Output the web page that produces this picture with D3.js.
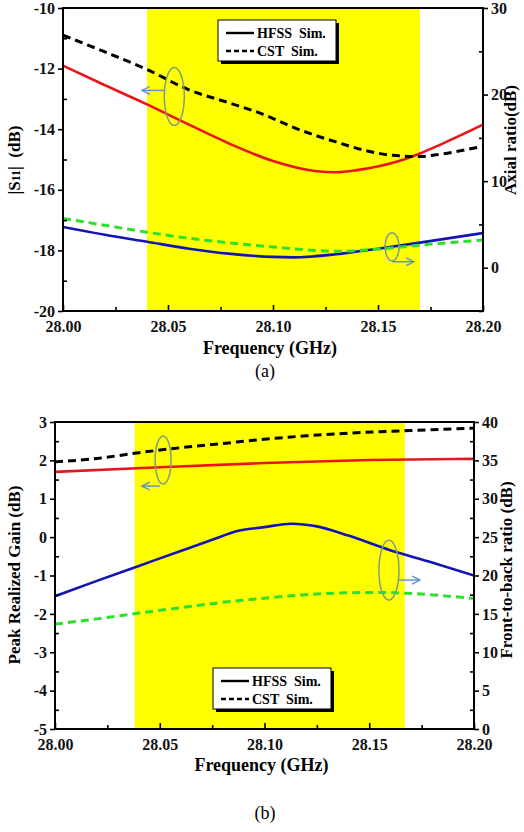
<!DOCTYPE html>
<html>
<head>
<meta charset="utf-8">
<script src="https://cdn.jsdelivr.net/npm/d3@7"></script>
<style>
  body { margin: 0; background: #fff; }
</style>
</head>
<body>
<div id="chart"></div>
<script>
// ---- panel (a) data: |S11| (left axis) and axial ratio (right axis)
const s11HfssFreq = [28.00, 28.02, 28.04, 28.06, 28.08, 28.10, 28.12, 28.13, 28.14, 28.16, 28.17, 28.18, 28.20]
const s11Hfss     = [-11.9, -12.55, -13.18, -13.85, -14.5, -15.05, -15.38, -15.42, -15.35, -15.05, -14.8, -14.5, -13.85]
const s11CstFreq  = [28.00, 28.02, 28.04, 28.06, 28.08, 28.095, 28.11, 28.13, 28.145, 28.16, 28.17, 28.18, 28.20]
const s11Cst      = [-10.9, -11.45, -12.03, -12.7, -13.15, -13.5, -13.95, -14.42, -14.72, -14.88, -14.9, -14.82, -14.56]
const arHfssFreq  = [28.00, 28.02, 28.04, 28.06, 28.08, 28.10, 28.11, 28.13, 28.15, 28.17, 28.20]
const arHfss      = [4.7, 3.8, 3.0, 2.2, 1.6, 1.25, 1.2, 1.55, 2.2, 2.9, 4.0]
const arCstFreq   = [28.00, 28.02, 28.04, 28.06, 28.08, 28.10, 28.12, 28.13, 28.15, 28.17, 28.20]
const arCst       = [5.7, 4.9, 4.1, 3.4, 2.85, 2.4, 2.0, 1.9, 2.15, 2.6, 3.2]
const bandA = [28.04, 28.17]

// ---- panel (b) data: peak realized gain (left) and front-to-back ratio (right)
const gainHfssFreq = [28.00, 28.05, 28.10, 28.15, 28.20]
const gainHfss     = [1.7, 1.82, 1.93, 2.01, 2.04]
const gainCstFreq  = [28.00, 28.02, 28.04, 28.06, 28.08, 28.10, 28.12, 28.14, 28.17, 28.20]
const gainCst      = [1.96, 2.05, 2.2, 2.33, 2.44, 2.55, 2.64, 2.71, 2.78, 2.84]
const fbrHfssFreq  = [28.00, 28.02, 28.04, 28.06, 28.08, 28.085, 28.10, 28.113, 28.125, 28.14, 28.16, 28.18, 28.20]
const fbrHfss      = [17.3, 19.3, 21.25, 23.2, 25.15, 25.65, 26.3, 26.75, 26.4, 25.2, 23.3, 21.7, 20.0]
const fbrCstFreq   = [28.00, 28.02, 28.04, 28.06, 28.08, 28.10, 28.12, 28.14, 28.155, 28.17, 28.20]
const fbrCst       = [13.65, 14.35, 15.1, 15.8, 16.5, 17.05, 17.5, 17.75, 17.8, 17.65, 17.0]
const bandB = [28.038, 28.167]

// ticks
const freqTicks = [28.00, 28.05, 28.10, 28.15, 28.20]
const freqMinor = [28.025, 28.075, 28.125, 28.175]
const s11Ticks = [-20, -18, -16, -14, -12, -10]
const s11Minor = [-19, -17, -15, -13, -11]
const arTicks = [0, 10, 20, 30]
const arMinor = [-5, 5, 15, 25]
const gainTicks = [-5, -4, -3, -2, -1, 0, 1, 2, 3]
const gainMinor = [-4.5, -3.5, -2.5, -1.5, -0.5, 0.5, 1.5, 2.5]
const fbrTicks = [0, 5, 10, 15, 20, 25, 30, 35, 40]
const fbrMinor = [2.5, 7.5, 12.5, 17.5, 22.5, 27.5, 32.5, 37.5]

const FONT = "'Liberation Serif', 'Times New Roman', 'DejaVu Serif', serif"
const zip = (xs, ys) => xs.map((x, i) => ({ f: x, v: ys[i] }))

const svg = d3.select("#chart").append("svg")
    .attr("width", 524)
    .attr("height", 832)
    .attr("font-family", FONT)

const panels = [
  {
    id: "a", left: 63, top: 8, width: 420, height: 303,
    yLeft: [-20, -10], yRight: [-5, 30],
    leftTicks: s11Ticks, leftMinor: s11Minor, rightTicks: arTicks, rightMinor: arMinor,
    band: bandA,
    series: [
      { data: zip(s11HfssFreq, s11Hfss), axis: "L", color: "#e8161c", dash: null, w: 2.6 },
      { data: zip(s11CstFreq, s11Cst), axis: "L", color: "#000", dash: "8,5", w: 3 },
      { data: zip(arHfssFreq, arHfss), axis: "R", color: "#1414b4", dash: null, w: 2.6 },
      { data: zip(arCstFreq, arCst), axis: "R", color: "#2ee02e", dash: "8,5", w: 3 }
    ],
    legend: { x: 155, y: 12 },
    ellipses: [
      { f: 28.053, v: -12.92, axis: "L", rx: 10, ry: 29, arrow: { v: -12.72, f0: 28.0486, f1: 28.0376 } },
      { f: 28.1567, v: 2.41, axis: "R", rx: 7, ry: 14, arrow: { v: 0.69, f0: 28.1567, f1: 28.1671 } }
    ],
    leftLabel: "S11", rightLabel: "Axial ratio(dB)", rightLabelY: 140, rightLabelX: 516,
    leftLabelY: 160, xLabelY: 354, caption: "(a)", captionY: 377
  },
  {
    id: "b", left: 55, top: 422, width: 419, height: 307,
    yLeft: [-5, 3], yRight: [0, 40],
    leftTicks: gainTicks, leftMinor: gainMinor, rightTicks: fbrTicks, rightMinor: fbrMinor,
    band: bandB,
    series: [
      { data: zip(gainHfssFreq, gainHfss), axis: "L", color: "#e8161c", dash: null, w: 2.6 },
      { data: zip(gainCstFreq, gainCst), axis: "L", color: "#000", dash: "8,5", w: 3 },
      { data: zip(fbrHfssFreq, fbrHfss), axis: "R", color: "#1414b4", dash: null, w: 2.6 },
      { data: zip(fbrCstFreq, fbrCst), axis: "R", color: "#2ee02e", dash: "8,5", w: 3 }
    ],
    legend: { x: 158, y: 246 },
    ellipses: [
      { f: 28.0516, v: 2.01, axis: "L", rx: 8, ry: 24, arrow: { v: 1.33, f0: 28.0501, f1: 28.0415 } },
      { f: 28.1594, v: 20.7, axis: "R", rx: 10, ry: 30, arrow: { v: 19.4, f0: 28.1642, f1: 28.1742 } }
    ],
    leftLabel: "Peak Realized Gain (dB)", rightLabel: "Front-to-back ratio (dB)", rightLabelY: 570, rightLabelX: 512,
    leftLabelY: 575, xLabelY: 771, caption: "(b)", captionY: 819
  }
]

// arrow marker
svg.append("defs").append("marker")
    .attr("id", "arr")
    .attr("viewBox", "0 0 10 10")
    .attr("refX", 9).attr("refY", 5)
    .attr("markerWidth", 7).attr("markerHeight", 7)
    .attr("orient", "auto")
  .append("path")
    .attr("d", "M1,1 L9,5 L1,9")
    .attr("fill", "none")
    .attr("stroke", "#5b8fd6")
    .attr("stroke-width", 1.4)

panels.forEach(p => {
  const x = d3.scaleLinear().domain([28.00, 28.20]).range([p.left, p.left + p.width])
  const yL = d3.scaleLinear().domain(p.yLeft).range([p.top + p.height, p.top])
  const yR = d3.scaleLinear().domain(p.yRight).range([p.top + p.height, p.top])
  const ys = a => a === "L" ? yL : yR

  const g = svg.append("g").attr("class", "panel-" + p.id)

  g.append("clipPath").attr("id", "clip-" + p.id)
    .append("rect")
      .attr("x", p.left).attr("y", p.top)
      .attr("width", p.width).attr("height", p.height)

  // yellow band
  g.append("rect")
    .attr("x", x(p.band[0]))
    .attr("y", p.top)
    .attr("width", x(p.band[1]) - x(p.band[0]))
    .attr("height", p.height)
    .attr("fill", "#ffff00")

  // curves
  const plot = g.append("g").attr("clip-path", "url(#clip-" + p.id + ")")
  p.series.forEach(s => {
    const line = d3.line()
        .curve(d3.curveMonotoneX)
        .x(d => x(d.f))
        .y(d => ys(s.axis)(d.v))
    plot.append("path")
        .datum(s.data)
        .attr("d", line)
        .attr("fill", "none")
        .attr("stroke", s.color)
        .attr("stroke-width", s.w)
        .attr("stroke-dasharray", s.dash)
  })

  // axes
  const fmtY = d => String(d)
  g.append("g")
      .attr("transform", "translate(0," + (p.top + p.height) + ")")
      .call(d3.axisBottom(x).tickValues(freqTicks).tickSize(-6).tickPadding(10).tickFormat(d3.format(".2f")))
  g.append("g")
      .attr("transform", "translate(0," + (p.top + p.height) + ")")
      .call(d3.axisBottom(x).tickValues(freqMinor).tickSize(-4).tickFormat(""))

  g.append("g")
      .attr("transform", "translate(" + p.left + ",0)")
      .call(d3.axisLeft(yL).tickValues(p.leftTicks).tickSize(5).tickPadding(3).tickFormat(fmtY))
  g.append("g")
      .attr("transform", "translate(" + p.left + ",0)")
      .call(d3.axisLeft(yL).tickValues(p.leftMinor).tickSize(-4).tickFormat(""))

  g.append("g")
      .attr("transform", "translate(" + (p.left + p.width) + ",0)")
      .call(d3.axisRight(yR).tickValues(p.rightTicks).tickSize(5).tickPadding(3).tickFormat(fmtY))
  g.append("g")
      .attr("transform", "translate(" + (p.left + p.width) + ",0)")
      .call(d3.axisRight(yR).tickValues(p.rightMinor).tickSize(-4).tickFormat(""))

  g.selectAll(".domain").remove()
  g.selectAll("g").attr("font-family", FONT)
  g.selectAll(".tick line").attr("stroke", "#000").attr("stroke-width", 1.6)
  g.selectAll(".tick text")
      .attr("fill", "#111")
      .attr("font-family", FONT)
      .attr("font-weight", "bold")
      .attr("font-size", 16)

  // frame
  g.append("rect")
      .attr("x", p.left).attr("y", p.top)
      .attr("width", p.width).attr("height", p.height)
      .attr("fill", "none")
      .attr("stroke", "#000")
      .attr("stroke-width", 2)

  // legend
  const lg = g.append("g").attr("transform", "translate(" + (p.left + p.legend.x) + "," + (p.top + p.legend.y) + ")")
  lg.append("rect").attr("x", 3).attr("y", 3).attr("width", 118).attr("height", 41).attr("fill", "#000")
  lg.append("rect").attr("x", 0).attr("y", 0).attr("width", 118).attr("height", 41)
      .attr("fill", "#fff").attr("stroke", "#000").attr("stroke-width", 1)
  const items = [["HFSS  Sim.", null, 13], ["CST  Sim.", "5,3", 31]]
  items.forEach(it => {
    lg.append("line")
        .attr("x1", 8).attr("x2", 36)
        .attr("y1", it[2]).attr("y2", it[2])
        .attr("stroke", "#000").attr("stroke-width", 2.4)
        .attr("stroke-dasharray", it[1])
    lg.append("text")
        .attr("x", 39).attr("y", it[2] + 5)
        .attr("font-family", FONT)
        .attr("font-size", 14).attr("font-weight", "bold")
        .attr("xml:space", "preserve")
        .text(it[0])
  })

  // annotations
  p.ellipses.forEach(e => {
    const yy = ys(e.axis)
    g.append("ellipse")
        .attr("cx", x(e.f)).attr("cy", yy(e.v))
        .attr("rx", e.rx).attr("ry", e.ry)
        .attr("fill", "none")
        .attr("stroke", "#7f9c86")
        .attr("stroke-width", 1.5)
    g.append("line")
        .attr("x1", x(e.arrow.f0)).attr("x2", x(e.arrow.f1))
        .attr("y1", yy(e.arrow.v)).attr("y2", yy(e.arrow.v))
        .attr("stroke", "#5b8fd6")
        .attr("stroke-width", 1.4)
        .attr("marker-end", "url(#arr)")
  })

  // axis labels
  const cx = p.left + p.width / 2
  g.append("text")
      .attr("x", cx - 3).attr("y", p.xLabelY)
      .attr("text-anchor", "middle")
      .attr("font-family", FONT)
      .attr("font-size", 18).attr("font-weight", "bold")
      .text("Frequency (GHz)")

  const ll = g.append("text")
      .attr("transform", "translate(20," + p.leftLabelY + ") rotate(-90)")
      .attr("text-anchor", "middle")
      .attr("font-family", FONT)
      .attr("font-size", 17).attr("font-weight", "bold")
  if (p.leftLabel === "S11") {
    ll.attr("xml:space", "preserve")
    ll.append("tspan").text("|S")
    ll.append("tspan").attr("font-size", 12).text("11")
    ll.append("tspan").text("|  (dB)")
  } else {
    ll.text(p.leftLabel)
  }

  g.append("text")
      .attr("transform", "translate(" + p.rightLabelX + "," + p.rightLabelY + ") rotate(-90)")
      .attr("text-anchor", "middle")
      .attr("font-family", FONT)
      .attr("font-size", 17).attr("font-weight", "bold")
      .text(p.rightLabel)

  g.append("text")
      .attr("x", 265).attr("y", p.captionY)
      .attr("text-anchor", "middle")
      .attr("font-family", FONT)
      .attr("font-size", 18)
      .text(p.caption)
})
</script>
</body>
</html>
